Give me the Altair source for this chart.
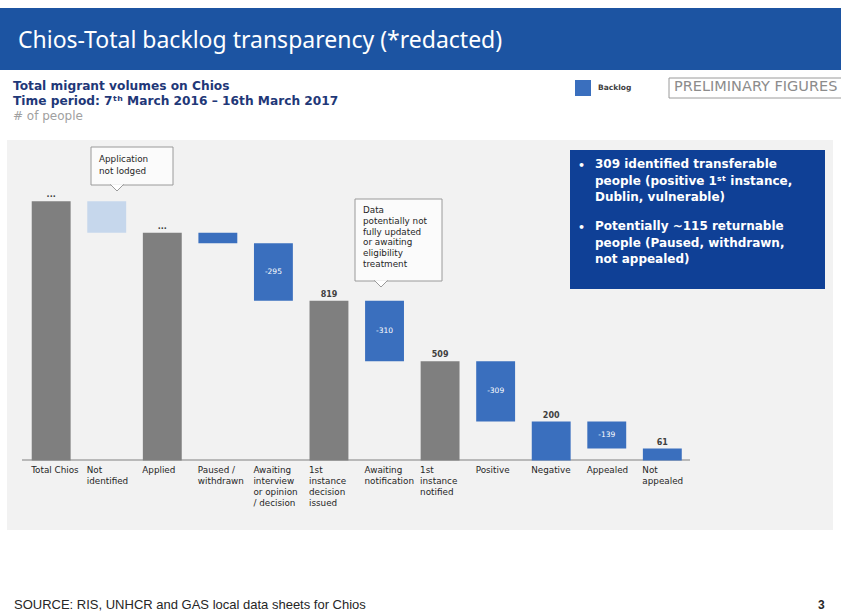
import altair as alt
import pandas as pd

# ---------------- data ----------------
categories = ["Total Chios", "Not identified", "Applied", "Paused / withdrawn",
              "Awaiting interview or opinion / decision", "1st instance decision issued",
              "Awaiting notification", "1st instance notified", "Positive", "Negative",
              "Appealed", "Not appealed"]
x_labels = ["Total Chios", "Not\nidentified", "Applied", "Paused /\nwithdrawn",
            "Awaiting\ninterview\nor opinion\n/ decision", "1st\ninstance\ndecision\nissued",
            "Awaiting\nnotification", "1st\ninstance\nnotified", "Positive", "Negative",
            "Appealed", "Not\nappealed"]
bar_low = [0, 1168, 0, 1114, 819, 0, 509, 0, 200, 0, 61, 0]
bar_high = [1330, 1330, 1168, 1168, 1114, 819, 819, 509, 509, 200, 200, 61]
bar_kind = ["total", "unidentified", "total", "backlog", "backlog", "total",
            "backlog", "total", "backlog", "backlog", "backlog", "backlog"]
top_labels = ["...", "", "...", "", "", "819", "", "509", "", "200", "", "61"]
inner_labels = ["", "", "", "", "-295", "", "-310", "", "-309", "", "-139", ""]

kind_domain = ["total", "unidentified", "backlog"]
kind_colors = ["#7f7f7f", "#c6d7ec", "#3a6fbe"]

df = pd.DataFrame({"cat": categories, "label": x_labels, "lo": bar_low, "hi": bar_high,
                   "kind": bar_kind, "top": top_labels, "inner": inner_labels})
df["mid"] = (df["lo"] + df["hi"]) / 2

FONT = "DejaVu Sans"

x_enc = alt.X("cat:N", sort=categories, axis=None,
              scale=alt.Scale(range=[23.4, 690.1], paddingInner=0.3, paddingOuter=0.15))
y_scale = alt.Scale(domain=[0, 1400], range=[460.5, 187.5], nice=False, zero=False)

base = alt.Chart(df)

bars = base.mark_bar().encode(
    x=x_enc,
    y=alt.Y("lo:Q", scale=y_scale, axis=None),
    y2="hi:Q",
    color=alt.Color("kind:N", scale=alt.Scale(domain=kind_domain, range=kind_colors), legend=None),
)

top_text = base.mark_text(font=FONT, fontSize=8, fontWeight="bold", color="#404040",
                          baseline="bottom", dy=-2).encode(
    x=x_enc, y=alt.Y("hi:Q", scale=y_scale, axis=None), text="top:N")

inner_text = base.mark_text(font=FONT, fontSize=7.5, color="white", baseline="middle").encode(
    x=x_enc, y=alt.Y("mid:Q", scale=y_scale, axis=None), text="inner:N")

x_text = base.mark_text(font=FONT, fontSize=8.8, color="#262626", align="left",
                        baseline="top", lineBreak="\n", lineHeight=11, dx=-20).encode(
    x=x_enc, y=alt.value(466), text="label:N")

# ---------------- decorations ----------------
deco = alt.Chart(pd.DataFrame({"d": [0]}))


def rect(x1, x2, y1, y2, **kw):
    return deco.mark_rect(**kw).encode(x=alt.value(x1), x2=alt.value(x2),
                                       y=alt.value(y1), y2=alt.value(y2))


def text(s, x, y, **kw):
    kw.setdefault("font", FONT)
    return deco.mark_text(text=s, **kw).encode(x=alt.value(x), y=alt.value(y))


def pointer(x, y):
    return deco.mark_point(shape="M-1,-1L0,0L1,-1", filled=True, fill="white",
                           stroke="#9a9a9a", strokeWidth=1, size=180, opacity=1).encode(
        x=alt.value(x), y=alt.value(y))


header = rect(0, 841, 8, 70, color="#1c54a2")
title = text("Chios-Total backlog transparency (*redacted)", 18, 41, font="Noto Sans",
             fontSize=23, color="white", align="left", baseline="middle")

sub1 = text("Total migrant volumes on Chios", 13, 86, fontSize=12.2, fontWeight="bold",
            color="#1f3878", align="left", baseline="middle")
sub2 = text("Time period: 7ᵗʰ March 2016 – 16th March 2017", 13, 101, fontSize=12.2,
            fontWeight="bold", color="#1f3878", align="left", baseline="middle")
sub3 = text("# of people", 13, 116, fontSize=12, color="#a0a0a0", align="left",
            baseline="middle")

legend_sq = rect(575, 591, 80, 96, color="#3a6fbe")
legend_tx = text("Backlog", 598, 88, fontSize=7.5, fontWeight="bold", color="#404040",
                 align="left", baseline="middle")
prelim_box = rect(669, 870, 78, 98, fill="white", stroke="#9a9a9a", strokeWidth=1)
prelim_tx = text("PRELIMINARY FIGURES", 674, 87, fontSize=14.5, color="#8c8c8c",
                 align="left", baseline="middle")

panel = rect(7, 833, 140, 530, color="#f2f2f2")

axis_line = deco.mark_rule(color="#a6a6a6", strokeWidth=1.5).encode(
    x=alt.value(22), x2=alt.value(690), y=alt.value(460))

call1_box = rect(91, 173, 147, 185, fill="#fbfbfb", stroke="#9a9a9a", strokeWidth=1)
call1_ptr = pointer(117, 191)
call1_tx = text("Application\nnot lodged", 99, 155, fontSize=8.8, color="#262626",
                align="left", baseline="top", lineBreak="\n", lineHeight=11.5)

call2_box = rect(355, 442, 199, 281, fill="#fbfbfb", stroke="#9a9a9a", strokeWidth=1)
call2_ptr = pointer(381, 287)
call2_tx = text("Data\npotentially not\nfully updated\nor awaiting\neligibility\ntreatment",
                363, 206, fontSize=8.8, color="#262626", align="left", baseline="top",
                lineBreak="\n", lineHeight=10.8)

box = rect(570, 825, 150, 289, color="#0f4096")
b1 = text("•", 578, 166, fontSize=11, fontWeight="bold", color="white", align="left",
          baseline="middle")
b1_tx = text("309 identified transferable\npeople (positive 1ˢᵗ instance,\nDublin, vulnerable)",
             595, 159, fontSize=12, fontWeight="bold", color="white", align="left",
             baseline="top", lineBreak="\n", lineHeight=16.5)
b2 = text("•", 578, 228, fontSize=11, fontWeight="bold", color="white", align="left",
          baseline="middle")
b2_tx = text("Potentially ~115 returnable\npeople (Paused, withdrawn,\nnot appealed)",
             595, 221, fontSize=12, fontWeight="bold", color="white", align="left",
             baseline="top", lineBreak="\n", lineHeight=16.5)

footer = text("SOURCE: RIS, UNHCR and GAS local data sheets for Chios", 14, 605,
              font="Liberation Sans", fontSize=13, color="#262626", align="left",
              baseline="middle")
page_no = text("3", 818, 605, font="Liberation Sans", fontSize=12, fontWeight="bold",
               color="#262626", align="left", baseline="middle")

chart = alt.layer(
    header, title, sub1, sub2, sub3, legend_sq, legend_tx, prelim_box, prelim_tx,
    panel, axis_line, bars, top_text, inner_text, x_text,
    call1_box, call1_ptr, call1_tx, call2_box, call2_ptr, call2_tx,
    box, b1, b1_tx, b2, b2_tx, footer, page_no,
).properties(
    width=841, height=613, padding=0, autosize=alt.AutoSizeParams(type="none"),
    background="white",
).configure_view(stroke=None)

chart.save("out.html", embed_options={"renderer": "svg", "actions": False})
